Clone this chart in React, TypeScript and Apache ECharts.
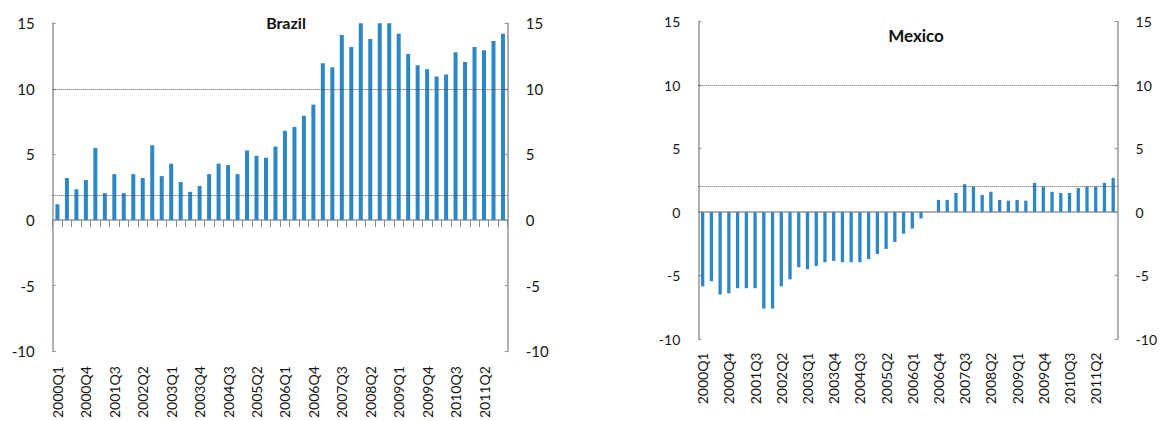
import React, { useEffect, useRef } from "react";
import * as echarts from "echarts";

// Quarterly categories, 2000Q1 .. 2011Q4
const quarters: string[] = [
  "2000Q1", "2000Q2", "2000Q3", "2000Q4",
  "2001Q1", "2001Q2", "2001Q3", "2001Q4",
  "2002Q1", "2002Q2", "2002Q3", "2002Q4",
  "2003Q1", "2003Q2", "2003Q3", "2003Q4",
  "2004Q1", "2004Q2", "2004Q3", "2004Q4",
  "2005Q1", "2005Q2", "2005Q3", "2005Q4",
  "2006Q1", "2006Q2", "2006Q3", "2006Q4",
  "2007Q1", "2007Q2", "2007Q3", "2007Q4",
  "2008Q1", "2008Q2", "2008Q3", "2008Q4",
  "2009Q1", "2009Q2", "2009Q3", "2009Q4",
  "2010Q1", "2010Q2", "2010Q3", "2010Q4",
  "2011Q1", "2011Q2", "2011Q3", "2011Q4",
];

const brazilValues: number[] = [
  1.2, 3.2, 2.35, 3.05, 5.5, 2.05, 3.5, 2.05,
  3.5, 3.2, 5.7, 3.35, 4.3, 2.9, 2.15, 2.6,
  3.5, 4.3, 4.2, 3.5, 5.3, 4.9, 4.75, 5.6,
  6.8, 7.1, 7.95, 8.8, 11.95, 11.65, 14.1, 13.2,
  15, 13.8, 15, 15, 14.2, 12.65, 11.8, 11.5,
  10.95, 11.1, 12.8, 12.05, 13.2, 12.95, 13.65, 14.2,
];

const mexicoValues: number[] = [
  -5.85, -5.45, -6.5, -6.4, -6.0, -6.0, -6.0, -7.6,
  -7.6, -5.85, -5.3, -4.35, -4.5, -4.25, -3.95, -3.85,
  -3.95, -3.95, -3.95, -3.7, -3.3, -2.9, -2.35, -1.7,
  -1.3, -0.5, 0, 0.95, 0.95, 1.5, 2.2, 2.0,
  1.35, 1.6, 0.95, 0.9, 0.95, 0.9, 2.3, 2.0,
  1.6, 1.5, 1.5, 1.9, 2.0, 2.0, 2.3, 2.7,
];

// Reference levels drawn as dotted lines
const brazilRefLines: number[] = [10, 1.9];
const mexicoRefLines: number[] = [10, 2];

const yMin = -10;
const yMax = 15;
const yStep = 5;

const BAR_COLOR = "#2c86c7";
const AXIS_COLOR = "#969696";
const TEXT_COLOR = "#141414";
const FONT = "Lato, 'Liberation Sans', sans-serif";

function valueAxis(grid: number, side: "left" | "right", fontSize: number) {
  return {
    type: "value",
    gridIndex: grid,
    position: side,
    min: yMin,
    max: yMax,
    interval: yStep,
    axisLine: { show: true, onZero: false, lineStyle: { color: AXIS_COLOR, width: 1.5 } },
    axisTick: { show: true, inside: true, length: 3, lineStyle: { color: AXIS_COLOR, width: 1.2 } },
    axisLabel: { margin: 18, color: TEXT_COLOR, fontSize, fontFamily: FONT },
    splitLine: { show: false },
  };
}

export default function App() {
  const ref = useRef<HTMLDivElement>(null);

  useEffect(() => {
    if (!ref.current) return;
    const chart = echarts.init(ref.current, undefined, { renderer: "svg" });

    const refLine = (levels: number[]) => ({
      silent: true,
      symbol: "none",
      label: { show: false },
      lineStyle: { color: "#555", type: "dotted", width: 1 },
      data: levels.map((v) => ({ yAxis: v })),
    });

    chart.setOption({
      animation: false,
      backgroundColor: "#ffffff",
      title: [
        {
          text: "Brazil",
          left: 281,
          top: 9,
          textAlign: "center",
          textStyle: { fontFamily: FONT, fontWeight: "bold", fontSize: 16, color: "#111" },
        },
        {
          text: "Mexico",
          left: 911,
          top: 22,
          textAlign: "center",
          textStyle: { fontFamily: FONT, fontWeight: "bold", fontSize: 17, color: "#111" },
        },
      ],
      grid: [
        { left: 52.7, top: 23.3, width: 455, height: 328 },
        { left: 698.3, top: 21.7, width: 419.7, height: 317.3 },
      ],
      xAxis: [
        // Brazil: zero line with ticks between categories
        {
          type: "category",
          gridIndex: 0,
          data: quarters,
          position: "bottom",
          axisLine: { show: true, onZero: true, lineStyle: { color: AXIS_COLOR, width: 1.5 } },
          axisTick: { show: true, interval: 0, length: 7, lineStyle: { color: "#8a8a8a", width: 1 } },
          axisLabel: { show: false },
        },
        // Brazil: labels along the bottom edge
        {
          type: "category",
          gridIndex: 0,
          data: quarters,
          position: "bottom",
          axisLine: { show: false, onZero: false },
          axisTick: { show: false },
          axisLabel: {
            interval: 2,
            rotate: 90,
            margin: 15,
            color: TEXT_COLOR,
            fontSize: 14,
            fontFamily: FONT,
          },
        },
        // Mexico: zero line, no ticks
        {
          type: "category",
          gridIndex: 1,
          data: quarters,
          position: "bottom",
          axisLine: { show: true, onZero: true, lineStyle: { color: AXIS_COLOR, width: 1.5 } },
          axisTick: { show: false },
          axisLabel: { show: false },
        },
        // Mexico: labels along the bottom edge
        {
          type: "category",
          gridIndex: 1,
          data: quarters,
          position: "bottom",
          axisLine: { show: false, onZero: false },
          axisTick: { show: false },
          axisLabel: {
            interval: 2,
            rotate: 90,
            margin: 13.5,
            color: TEXT_COLOR,
            fontSize: 14,
            fontFamily: FONT,
          },
        },
      ],
      yAxis: [
        valueAxis(0, "left", 15),
        valueAxis(0, "right", 15),
        valueAxis(1, "left", 14),
        valueAxis(1, "right", 14),
      ],
      series: [
        {
          name: "Brazil",
          type: "bar",
          xAxisIndex: 0,
          yAxisIndex: 0,
          data: brazilValues,
          barWidth: 4,
          itemStyle: { color: BAR_COLOR },
          markLine: refLine(brazilRefLines),
        },
        {
          name: "Mexico",
          type: "bar",
          xAxisIndex: 2,
          yAxisIndex: 2,
          data: mexicoValues,
          barWidth: 3.3,
          itemStyle: { color: BAR_COLOR },
          markLine: refLine(mexicoRefLines),
        },
      ],
    });

    return () => chart.dispose();
  }, []);

  return (
    <div
      ref={ref}
      style={{ position: "absolute", left: 0, top: 0, width: 1160, height: 421 }}
    />
  );
}
